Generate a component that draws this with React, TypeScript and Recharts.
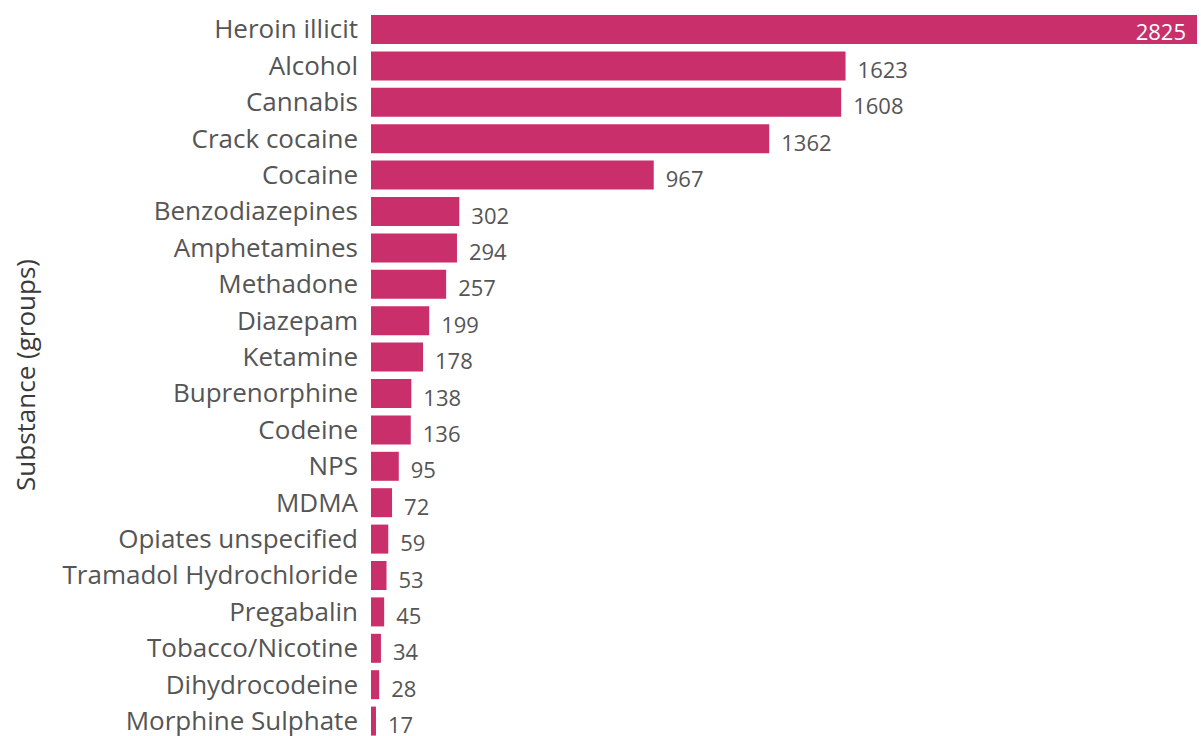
import { Bar, BarChart, LabelList, XAxis, YAxis } from 'recharts';

const substances = [
  'Heroin illicit',
  'Alcohol',
  'Cannabis',
  'Crack cocaine',
  'Cocaine',
  'Benzodiazepines',
  'Amphetamines',
  'Methadone',
  'Diazepam',
  'Ketamine',
  'Buprenorphine',
  'Codeine',
  'NPS',
  'MDMA',
  'Opiates unspecified',
  'Tramadol Hydrochloride',
  'Pregabalin',
  'Tobacco/Nicotine',
  'Dihydrocodeine',
  'Morphine Sulphate',
];

const counts = [2825, 1623, 1608, 1362, 967, 302, 294, 257, 199, 178, 138, 136, 95, 72, 59, 53, 45, 34, 28, 17];

const AXIS_TITLE = 'Substance (groups)';
const BAR_COLOR = '#C82F6B';
const FONT = '"Open Sans", "Noto Sans", sans-serif';

const data = substances.map((name, i) => ({ name, count: counts[i] }));
const maxCount = Math.max(...counts);

function ValueLabel(props: any) {
  const { x, y, width, height, value } = props;
  if (value === maxCount) {
    return (
      <text x={x + width - 11} y={y + height / 2 + 1} textAnchor="end" dominantBaseline="central" fill="#ffffff" fontSize={22} fontFamily={FONT}>
        {value}
      </text>
    );
  }
  return (
    <text x={x + width + 12} y={y + height / 2 + 3} textAnchor="start" dominantBaseline="central" fill="#555555" fontSize={22} fontFamily={FONT}>
      {value}
    </text>
  );
}

function AxisTitle(props: any) {
  const { viewBox } = props;
  const cy = viewBox.y + viewBox.height / 2;
  return (
    <text x={25} y={cy} transform={`rotate(-90, 25, ${cy})`} textAnchor="middle" dominantBaseline="central" fill="#3a3a3a" fontSize={26} fontFamily={FONT}>
      {AXIS_TITLE}
    </text>
  );
}

export default function App() {
  return (
    <div style={{ position: 'absolute', left: 0, top: 0, width: 1201, height: 736, overflow: 'hidden', background: '#fff' }}>
      <BarChart
        width={1201}
        height={745}
        data={data}
        layout="vertical"
        margin={{ top: 11, right: 4, left: 0, bottom: 6 }}
        barSize={29}
      >
        <XAxis type="number" domain={[0, maxCount]} hide />
        <YAxis
          type="category"
          dataKey="name"
          width={371}
          axisLine={false}
          tickLine={false}
          tickSize={0}
          tickMargin={13}
          interval={0}
          tick={{ fill: '#555555', fontSize: 26, fontFamily: FONT }}
          label={{ content: <AxisTitle /> } as any}
        />
        <Bar dataKey="count" fill={BAR_COLOR} isAnimationActive={false}>
          <LabelList dataKey="count" content={<ValueLabel />} />
        </Bar>
      </BarChart>
    </div>
  );
}
